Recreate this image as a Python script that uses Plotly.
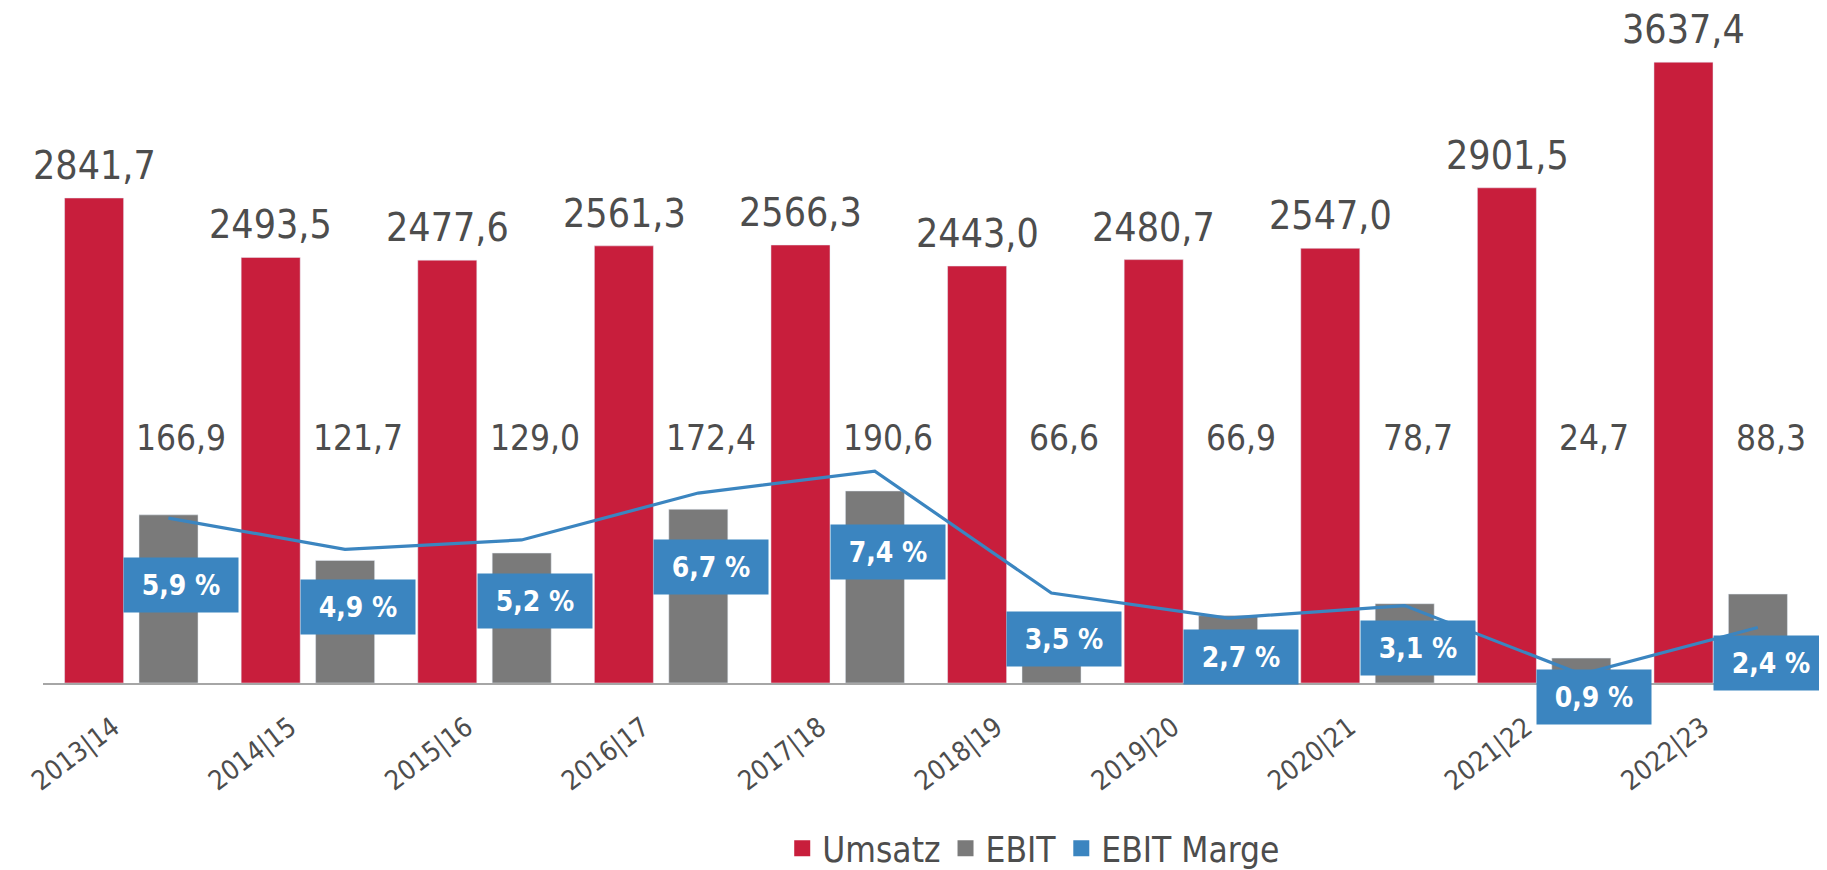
import plotly.graph_objects as go

categories = ["2013|14", "2014|15", "2015|16", "2016|17", "2017|18",
              "2018|19", "2019|20", "2020|21", "2021|22", "2022|23"]
umsatz = [2841.7, 2493.5, 2477.6, 2561.3, 2566.3, 2443.0, 2480.7, 2547.0, 2901.5, 3637.4]
ebit = [166.9, 121.7, 129.0, 172.4, 190.6, 66.6, 66.9, 78.7, 24.7, 88.3]
marge = [5.9, 4.9, 5.2, 6.7, 7.4, 3.5, 2.7, 3.1, 0.9, 2.4]

RED = "#C81E3C"
GRAY = "#7A7A7A"
BLUE = "#3B85C0"
TXT = "#4D4D4D"
FONT = "DejaVu Sans Condensed, Liberation Sans Narrow, Liberation Sans, sans-serif"


def de(v):
    return f"{v:.1f}".replace(".", ",")


fig = go.Figure()

fig.add_trace(go.Bar(x=categories, y=umsatz, name="Umsatz", marker_color=RED,
                     offsetgroup="1", xaxis="x", yaxis="y", showlegend=False))
fig.add_trace(go.Bar(x=categories, y=ebit, name="EBIT", marker_color=GRAY,
                     offsetgroup="2", xaxis="x", yaxis="y2", showlegend=False))
fig.add_trace(go.Scatter(x=categories, y=marge, name="EBIT Marge", mode="lines",
                         line=dict(color=BLUE, width=3.2), xaxis="x2", yaxis="y3",
                         showlegend=False))

# legend entries (square swatches)
for nm, col in [("Umsatz", RED), ("EBIT", GRAY), ("EBIT Marge", BLUE)]:
    fig.add_trace(go.Scatter(x=[None], y=[None], name=nm, mode="markers",
                             marker=dict(symbol="square", size=20, color=col),
                             xaxis="x", yaxis="y"))

ann = []
for c, v in zip(categories, umsatz):
    ann.append(dict(x=c, y=v, xref="x", yref="y", text=de(v), showarrow=False,
                    xshift=-37, yshift=8, yanchor="bottom",
                    font=dict(family=FONT, size=39, color=TXT)))
for c, v in zip(categories, ebit):
    ann.append(dict(x=c, y=0.363, xref="x", yref="paper", text=de(v), showarrow=False,
                    xshift=50, yanchor="middle",
                    font=dict(family=FONT, size=35, color=TXT)))
for c, v in zip(categories, marge):
    ann.append(dict(x=c, y=v, xref="x", yref="y4", text="<b>" + de(v) + " %</b>",
                    showarrow=False, xshift=50, yanchor="top", xanchor="center",
                    width=110, height=50, borderpad=2, bgcolor=BLUE,
                    font=dict(family=FONT, size=28, color="white")))

fig.update_layout(
    width=1827, height=870,
    margin=dict(l=35, r=26, t=0, b=187),
    paper_bgcolor="white", plot_bgcolor="white",
    barmode="group", bargap=0.157, bargroupgap=0.207,
    font=dict(family=FONT, color=TXT),
    xaxis=dict(type="category", categoryorder="array", categoryarray=categories,
               range=[-0.5, 9.5], showline=True, linecolor="#A6A6A6", linewidth=2,
               showgrid=False, zeroline=False, ticks="", tickangle=-37,
               ticklabelstandoff=16, ticklabelshift=-18,
               tickfont=dict(family=FONT, size=27, color=TXT)),
    xaxis2=dict(type="category", categoryorder="array", categoryarray=categories,
                overlaying="x", range=[-0.5 - 0.21, 9.5 - 0.21], visible=False),
    yaxis=dict(range=[0, 3955], visible=False, showgrid=False),
    yaxis2=dict(range=[0, 670], overlaying="y", visible=False, showgrid=False),
    yaxis3=dict(range=[0.623, 22.22], overlaying="y", visible=False, showgrid=False),
    yaxis4=dict(range=[0.261, 30.48], overlaying="y", visible=False, showgrid=False),
    legend=dict(orientation="h", x=0.561, xanchor="center", y=-0.246, yanchor="middle",
                font=dict(family=FONT, size=35, color=TXT), itemclick=False),
    annotations=ann,
)

fig.write_html("out.html")
